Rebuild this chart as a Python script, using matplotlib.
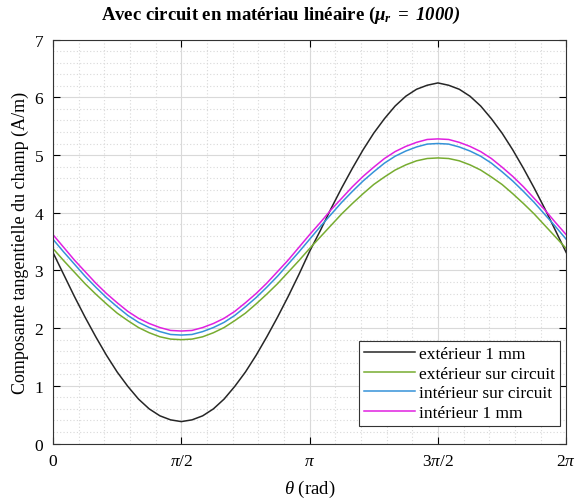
import numpy as np
import matplotlib
matplotlib.use("Agg")
import matplotlib.pyplot as plt

plt.rcParams['font.family'] = ['Liberation Serif', 'DejaVu Serif']
plt.rcParams['mathtext.fontset'] = 'custom'
plt.rcParams['mathtext.rm'] = 'Liberation Serif'
plt.rcParams['mathtext.it'] = 'Liberation Serif:italic'
plt.rcParams['mathtext.bf'] = 'Liberation Serif:bold:italic'

# angle samples, in multiples of pi/24
k = np.arange(49)
theta = k * np.pi / 24

ext_1mm = [3.31, 2.93, 2.55, 2.19, 1.85, 1.53, 1.24, 0.99, 0.77, 0.60, 0.48, 0.41, 0.38,
           0.41, 0.48, 0.60, 0.77, 0.99, 1.24, 1.53, 1.85, 2.19, 2.55, 2.93, 3.33,
           3.69, 4.07, 4.43, 4.77, 5.09, 5.38, 5.63, 5.85, 6.02, 6.14, 6.21, 6.25,
           6.21, 6.14, 6.02, 5.85, 5.63, 5.38, 5.09, 4.77, 4.43, 4.07, 3.69, 3.31]
ext_circ = [3.38, 3.17, 2.97, 2.77, 2.59, 2.42, 2.26, 2.13, 2.01, 1.92, 1.85, 1.81, 1.80,
            1.81, 1.85, 1.92, 2.01, 2.13, 2.26, 2.42, 2.59, 2.77, 2.97, 3.17, 3.38,
            3.58, 3.78, 3.98, 4.16, 4.33, 4.49, 4.62, 4.74, 4.83, 4.90, 4.94, 4.95,
            4.94, 4.90, 4.83, 4.74, 4.62, 4.49, 4.33, 4.16, 3.98, 3.78, 3.58, 3.38]
int_circ = [3.54, 3.32, 3.11, 2.90, 2.71, 2.53, 2.37, 2.22, 2.10, 2.01, 1.94, 1.89, 1.88,
            1.89, 1.94, 2.01, 2.10, 2.22, 2.37, 2.53, 2.71, 2.90, 3.11, 3.32, 3.54,
            3.76, 3.97, 4.18, 4.37, 4.55, 4.71, 4.86, 4.98, 5.07, 5.14, 5.19, 5.20,
            5.19, 5.14, 5.07, 4.98, 4.86, 4.71, 4.55, 4.37, 4.18, 3.97, 3.76, 3.54]
int_1mm = [3.62, 3.40, 3.18, 2.98, 2.78, 2.60, 2.44, 2.29, 2.17, 2.08, 2.01, 1.96, 1.95,
           1.96, 2.01, 2.08, 2.17, 2.29, 2.44, 2.60, 2.78, 2.98, 3.18, 3.40, 3.62,
           3.83, 4.05, 4.25, 4.45, 4.63, 4.79, 4.94, 5.06, 5.15, 5.22, 5.27, 5.28,
           5.27, 5.22, 5.15, 5.06, 4.94, 4.79, 4.63, 4.45, 4.25, 4.05, 3.83, 3.62]

labels = ['extérieur 1 mm', 'extérieur sur circuit', 'intérieur sur circuit', 'intérieur 1 mm']
colors = ['#262626', '#77AC30', '#3592D8', '#E020E0']
xtick_labels = ['0', r'$\pi$/2', r'$\pi$', r'3$\pi$/2', r'2$\pi$']

fig = plt.figure(figsize=(5.76, 5.02), dpi=100)
ax = fig.add_axes([0.092, 0.1145, 0.891, 0.8045])

for y, lab, c in zip([ext_1mm, ext_circ, int_circ, int_1mm], labels, colors):
    ax.plot(theta, y, color=c, lw=1.1, label=lab)

ax.set_xlim(0, 2 * np.pi)
ax.set_ylim(0, 7)
ax.set_xticks(np.arange(5) * np.pi / 2)
ax.set_xticklabels(xtick_labels)
ax.set_xticks(np.arange(21) * np.pi / 10, minor=True)
ax.set_yticks(np.arange(8))
ax.set_yticks(np.arange(0, 7.01, 0.2), minor=True)
ax.tick_params(which='major', direction='in', top=True, right=True, labelsize=12.5, length=5, pad=7)
ax.tick_params(which='minor', length=0)
ax.grid(which='major', color='#d9d9d9', lw=0.8)
ax.grid(which='minor', color='#d9d9d9', lw=0.8, ls=(0, (1, 2)))
ax.set_axisbelow(True)
for s in ax.spines.values():
    s.set_color('#333333')

ax.set_xlabel(r'$\theta$ (rad)', fontsize=13.5, labelpad=6)
ax.set_ylabel('Composante tangentielle du champ (A/m)', fontsize=13, labelpad=4)
fig.text(0.487, 0.97, r'Avec circuit en matériau linéaire ($\mathbf{\mu_r\ =\ 1000)}$',
         fontsize=13.5, fontweight='bold', ha='center', va='center')

leg = ax.legend(loc='lower right', fontsize=12.5, handlelength=2.9, handletextpad=0.25,
                borderpad=0.3, labelspacing=0.2, fancybox=False, edgecolor='#333333',
                framealpha=1, borderaxespad=0, bbox_to_anchor=(0.988, 0.043))
leg.get_frame().set_linewidth(0.8)

fig.savefig('out.png', dpi=100)
